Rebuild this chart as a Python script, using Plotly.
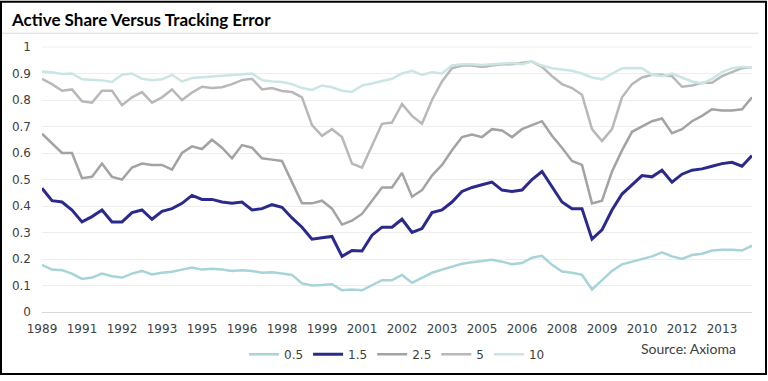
import plotly.graph_objects as go

# ---- data ----
tick_labels = ["1989", "1991", "1992", "1993", "1995", "1996", "1998", "1999", "2001",
               "2002", "2003", "2005", "2006", "2008", "2009", "2010", "2012", "2013"]

series_names = ["0.5", "1.5", "2.5", "5", "10"]

s_05 = [0.178, 0.160, 0.158, 0.145, 0.125, 0.130, 0.145, 0.135, 0.130, 0.145,
        0.155, 0.142, 0.148, 0.152, 0.160, 0.168, 0.160, 0.163, 0.160, 0.155,
        0.158, 0.155, 0.148, 0.150, 0.145, 0.140, 0.108, 0.100, 0.102, 0.105,
        0.082, 0.085, 0.082, 0.100, 0.120, 0.120, 0.140, 0.110, 0.128, 0.148,
        0.160, 0.170, 0.182, 0.188, 0.193, 0.197, 0.190, 0.180, 0.185, 0.205,
        0.212, 0.178, 0.153, 0.148, 0.140, 0.085, 0.120, 0.155, 0.180, 0.190,
        0.200, 0.210, 0.225, 0.210, 0.200, 0.215, 0.220, 0.232, 0.235, 0.235,
        0.232, 0.250]

s_15 = [0.467, 0.420, 0.415, 0.385, 0.340, 0.360, 0.385, 0.340, 0.340, 0.375,
        0.385, 0.350, 0.380, 0.390, 0.410, 0.440, 0.425, 0.425, 0.415, 0.410,
        0.415, 0.385, 0.390, 0.405, 0.395, 0.355, 0.320, 0.275, 0.280, 0.285,
        0.210, 0.232, 0.230, 0.290, 0.320, 0.320, 0.350, 0.300, 0.315, 0.375,
        0.385, 0.415, 0.455, 0.470, 0.480, 0.490, 0.460, 0.455, 0.460, 0.500,
        0.530, 0.470, 0.415, 0.390, 0.390, 0.275, 0.310, 0.385, 0.445, 0.480,
        0.515, 0.510, 0.535, 0.490, 0.520, 0.535, 0.540, 0.550, 0.560, 0.565,
        0.550, 0.590]

s_25 = [0.673, 0.635, 0.600, 0.600, 0.505, 0.510, 0.560, 0.510, 0.500, 0.545,
        0.560, 0.555, 0.555, 0.537, 0.600, 0.625, 0.615, 0.650, 0.620, 0.580,
        0.630, 0.620, 0.580, 0.575, 0.570, 0.490, 0.410, 0.410, 0.420, 0.390,
        0.330, 0.345, 0.370, 0.420, 0.470, 0.470, 0.525, 0.435, 0.460, 0.515,
        0.555, 0.610, 0.660, 0.670, 0.660, 0.690, 0.685, 0.660, 0.690, 0.705,
        0.720, 0.665, 0.620, 0.570, 0.555, 0.410, 0.420, 0.530, 0.610, 0.680,
        0.700, 0.720, 0.730, 0.675, 0.690, 0.720, 0.740, 0.765, 0.760, 0.760,
        0.765, 0.810]

s_5 = [0.880, 0.860, 0.835, 0.840, 0.795, 0.790, 0.835, 0.835, 0.780, 0.810,
       0.830, 0.790, 0.810, 0.840, 0.800, 0.828, 0.850, 0.845, 0.848, 0.860,
       0.875, 0.880, 0.840, 0.845, 0.834, 0.830, 0.810, 0.705, 0.665, 0.690,
       0.660, 0.560, 0.545, 0.630, 0.710, 0.715, 0.785, 0.740, 0.710, 0.800,
       0.870, 0.920, 0.930, 0.930, 0.925, 0.930, 0.935, 0.935, 0.940, 0.945,
       0.925, 0.890, 0.860, 0.845, 0.820, 0.690, 0.645, 0.690, 0.810, 0.860,
       0.885, 0.895, 0.895, 0.890, 0.850, 0.855, 0.865, 0.865, 0.890, 0.905,
       0.920, 0.925]

s_10 = [0.908, 0.905, 0.898, 0.900, 0.878, 0.875, 0.874, 0.868, 0.895, 0.900,
        0.880, 0.875, 0.878, 0.895, 0.870, 0.883, 0.886, 0.888, 0.892, 0.895,
        0.897, 0.900, 0.875, 0.870, 0.868, 0.860, 0.845, 0.838, 0.855, 0.848,
        0.835, 0.830, 0.855, 0.862, 0.872, 0.880, 0.900, 0.910, 0.895, 0.905,
        0.900, 0.930, 0.935, 0.935, 0.932, 0.935, 0.938, 0.940, 0.935, 0.945,
        0.930, 0.920, 0.915, 0.910, 0.900, 0.885, 0.878, 0.900, 0.920, 0.921,
        0.920, 0.895, 0.890, 0.900, 0.885, 0.870, 0.862, 0.880, 0.905, 0.920,
        0.925, 0.924]

series_values = [s_05, s_15, s_25, s_5, s_10]
x_index = list(range(len(s_05)))
tick_step = 4
tick_positions = [i * tick_step for i in range(len(tick_labels))]

# ---- styles ----
colors = ["#a6d4d8", "#2b2a8c", "#a3a3a3", "#b8b8b8", "#cbe5e5"]
widths = [2.5, 3, 2.5, 2.5, 2.5]

W, H = 768, 381
L, R, T, B = 42, 16, 47, 65
PW, PH = W - L - R, H - T - B


def px_x(px):
    return (px - L) / PW


def px_y(py):
    return (H - B - py) / PH


fig = go.Figure()
for name, vals, c, w in zip(series_names, series_values, colors, widths):
    fig.add_trace(go.Scatter(x=x_index, y=vals, mode="lines", name=name,
                             line=dict(color=c, width=w)))

tick_font = dict(family="DejaVu Sans", size=12, color="#404040")

fig.update_layout(
    width=W, height=H,
    margin=dict(l=L, r=R, t=T, b=B),
    paper_bgcolor="white", plot_bgcolor="white",
    showlegend=True,
    legend=dict(orientation="h", x=0.5, xanchor="center", y=px_y(359), yanchor="middle",
                font=dict(family="DejaVu Sans", size=12, color="#404040"),
                itemwidth=30, tracegroupgap=0, bgcolor="rgba(0,0,0,0)"),
    xaxis=dict(range=[0, len(s_05) - 1], tickmode="array", tickvals=tick_positions,
               ticktext=tick_labels, showgrid=False, zeroline=False,
               showline=True, linecolor="#d9d9d9", linewidth=1, ticks="",
               tickfont=tick_font, ticklabelstandoff=6),
    yaxis=dict(range=[0, 1.0], tickmode="linear", tick0=0, dtick=0.1,
               showgrid=True, gridcolor="#eeeeee", gridwidth=1, zeroline=False,
               showline=False, ticks="", tickfont=tick_font, ticklabelstandoff=10),
    annotations=[
        dict(text="<b>Active Share Versus Tracking Error</b>", xref="paper", yref="paper",
             x=px_x(9), y=px_y(19), xanchor="left", yanchor="middle", showarrow=False,
             font=dict(family="Lato", size=17, color="#000000")),
        dict(text="Source: Axioma", xref="paper", yref="paper",
             x=px_x(738), y=px_y(353), xanchor="right", yanchor="middle", showarrow=False,
             font=dict(family="Lato", size=14, color="#404040")),
    ],
    shapes=[
        dict(type="line", xref="paper", yref="paper", x0=px_x(1), x1=px_x(758),
             y0=px_y(33), y1=px_y(33), line=dict(color="#d9d9d9", width=1)),
        dict(type="line", xref="paper", yref="paper", x0=0, x1=1,
             y0=1, y1=1, line=dict(color="#eeeeee", width=1), layer="below"),
        dict(type="rect", xref="paper", yref="paper", x0=px_x(1), x1=px_x(766),
             y0=px_y(1), y1=px_y(379), line=dict(color="#000000", width=2)),
    ],
)

fig.write_html("out.html", config={"displayModeBar": False},
               post_script="document.body.style.margin='0';")
